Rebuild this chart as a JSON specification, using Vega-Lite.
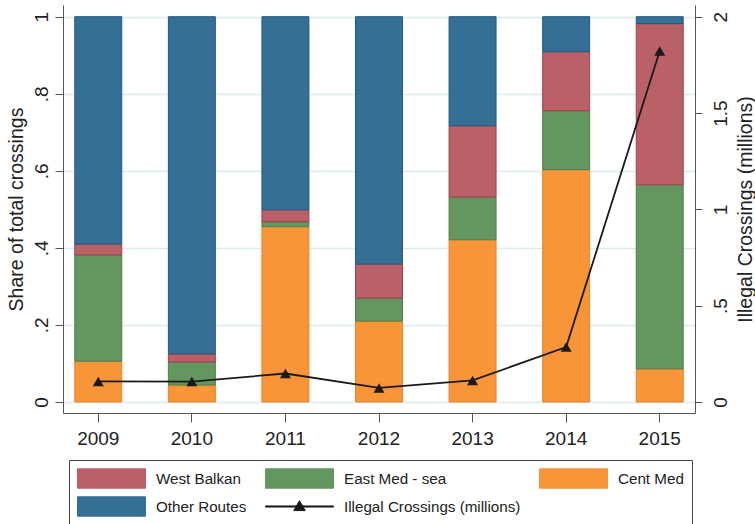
{
  "$schema": "https://vega.github.io/schema/vega-lite/v6.json",
  "width": 632,
  "height": 408,
  "autosize": {"type": "none"},
  "padding": {"left": 63, "top": 5, "right": 60, "bottom": 111},
  "background": "white",
  "config": {
    "view": {"stroke": null},
    "font": "Liberation Sans",
    "axis": {"labelColor": "#222", "titleColor": "#222", "domainColor": "#555", "tickColor": "#555", "labelFont": "Liberation Sans", "titleFont": "Liberation Sans", "titleFontWeight": "normal"}
  },
  "datasets": {
    "shares": [
      {"year": "2009", "route": "Cent Med", "share": 0.106},
      {"year": "2009", "route": "East Med - sea", "share": 0.276},
      {"year": "2009", "route": "West Balkan", "share": 0.028},
      {"year": "2009", "route": "Other Routes", "share": 0.590},
      {"year": "2010", "route": "Cent Med", "share": 0.044},
      {"year": "2010", "route": "East Med - sea", "share": 0.060},
      {"year": "2010", "route": "West Balkan", "share": 0.021},
      {"year": "2010", "route": "Other Routes", "share": 0.875},
      {"year": "2011", "route": "Cent Med", "share": 0.455},
      {"year": "2011", "route": "East Med - sea", "share": 0.013},
      {"year": "2011", "route": "West Balkan", "share": 0.031},
      {"year": "2011", "route": "Other Routes", "share": 0.501},
      {"year": "2012", "route": "Cent Med", "share": 0.210},
      {"year": "2012", "route": "East Med - sea", "share": 0.060},
      {"year": "2012", "route": "West Balkan", "share": 0.088},
      {"year": "2012", "route": "Other Routes", "share": 0.642},
      {"year": "2013", "route": "Cent Med", "share": 0.421},
      {"year": "2013", "route": "East Med - sea", "share": 0.111},
      {"year": "2013", "route": "West Balkan", "share": 0.185},
      {"year": "2013", "route": "Other Routes", "share": 0.283},
      {"year": "2014", "route": "Cent Med", "share": 0.603},
      {"year": "2014", "route": "East Med - sea", "share": 0.153},
      {"year": "2014", "route": "West Balkan", "share": 0.153},
      {"year": "2014", "route": "Other Routes", "share": 0.091},
      {"year": "2015", "route": "Cent Med", "share": 0.086},
      {"year": "2015", "route": "East Med - sea", "share": 0.478},
      {"year": "2015", "route": "West Balkan", "share": 0.418},
      {"year": "2015", "route": "Other Routes", "share": 0.018}
    ],
    "crossings": [
      {"year": "2009", "millions": 0.107},
      {"year": "2010", "millions": 0.106},
      {"year": "2011", "millions": 0.148},
      {"year": "2012", "millions": 0.073},
      {"year": "2013", "millions": 0.112},
      {"year": "2014", "millions": 0.285},
      {"year": "2015", "millions": 1.822}
    ]
  },
  "layer": [
    {
      "data": {"name": "shares"},
      "transform": [
        {"calculate": "indexof(['Cent Med','East Med - sea','West Balkan','Other Routes'], datum.route)", "as": "ord"}
      ],
      "mark": {"type": "bar", "strokeWidth": 1},
      "encoding": {
        "x": {
          "field": "year", "type": "ordinal",
          "scale": {"paddingInner": 0.498, "paddingOuter": 0.126},
          "axis": {"title": null, "labelAngle": 0, "labelFontSize": 19, "tickSize": 9, "labelPadding": 7, "labelBaseline": "top", "grid": false}
        },
        "y": {
          "field": "share", "type": "quantitative", "stack": "zero",
          "scale": {"domain": [-0.02855, 1.03037], "nice": false, "zero": false},
          "axis": {
            "title": "Share of total crossings", "titleFontSize": 19.5, "titlePadding": 6,
            "values": [0, 0.2, 0.4, 0.6, 0.8, 1],
            "labelExpr": "replace(toString(datum.value), '0.', '.')",
            "labelFontSize": 19, "labelAngle": -90, "labelAlign": "center", "labelBaseline": "alphabetic",
            "labelPadding": 8, "tickSize": 8,
            "grid": true, "gridColor": "#dce9ee", "gridWidth": 1.6
          }
        },
        "color": {
          "field": "route", "type": "nominal",
          "scale": {
            "domain": ["West Balkan", "Other Routes", "East Med - sea", "Illegal Crossings (millions)", "Cent Med"],
            "range": ["#b96069", "#356f93", "#649660", "#1a1a1a", "#f79538"]
          },
          "legend": {
            "title": null, "orient": "none", "legendX": 6, "legendY": 455,
            "columns": 3, "symbolSize": 4624, "clipHeight": 21, "labelOffset": 10,
            "columnPadding": 18, "rowPadding": 7, "padding": 8,
            "strokeColor": "#444", "labelFontSize": 15.2, "labelFont": "Liberation Sans", "labelColor": "#222",
            "labelLimit": 400,
            "encode": {
              "symbols": {
                "update": {
                  "shape": {"signal": "datum.value === 'Illegal Crossings (millions)' ? 'M-1,-0.016L1,-0.016L1,0.016L-1,0.016Z M0,-0.17L0.17,0.12L-0.17,0.12Z' : 'M-1,-0.285L1,-0.285L1,0.285L-1,0.285Z'"},
                  "fill": {"signal": "datum.value === 'West Balkan' ? '#b96069' : datum.value === 'East Med - sea' ? '#649660' : datum.value === 'Cent Med' ? '#f79538' : datum.value === 'Other Routes' ? '#356f93' : '#1a1a1a'"},
                  "stroke": {"signal": "datum.value === 'West Balkan' ? '#a43f4a' : datum.value === 'East Med - sea' ? '#4f7f49' : datum.value === 'Cent Med' ? '#e8822a' : datum.value === 'Other Routes' ? '#1d5a80' : '#1a1a1a'"},
                  "strokeWidth": {"value": 1},
                  "opacity": {"value": 1}
                }
              }
            }
          }
        },
        "stroke": {
          "field": "route", "type": "nominal",
          "scale": {
            "domain": ["West Balkan", "East Med - sea", "Cent Med", "Other Routes"],
            "range": ["#a43f4a", "#4f7f49", "#e8822a", "#1d5a80"]
          },
          "legend": null
        },
        "order": {"field": "ord", "type": "quantitative", "sort": "ascending"}
      }
    },
    {
      "data": {"name": "crossings"},
      "mark": {"type": "line", "strokeWidth": 1.8, "point": {"shape": "triangle-up", "size": 120, "filled": true}},
      "encoding": {
        "x": {"field": "year", "type": "ordinal"},
        "y": {
          "field": "millions", "type": "quantitative",
          "scale": {"domain": [-0.0571, 2.0607], "nice": false, "zero": false},
          "axis": {
            "orient": "right",
            "title": "Illegal Crossings (millions)", "titleFontSize": 19.5, "titlePadding": 6,
            "titleAngle": 270, "titleBaseline": "top",
            "values": [0, 0.5, 1, 1.5, 2],
            "labelExpr": "replace(toString(datum.value), '0.', '.')",
            "labelFontSize": 19, "labelAngle": -90, "labelAlign": "center", "labelBaseline": "top",
            "labelPadding": 9, "tickSize": 7, "grid": false
          }
        },
        "color": {"datum": "Illegal Crossings (millions)"}
      }
    }
  ],
  "resolve": {"scale": {"y": "independent"}, "axis": {"y": "independent"}}
}
